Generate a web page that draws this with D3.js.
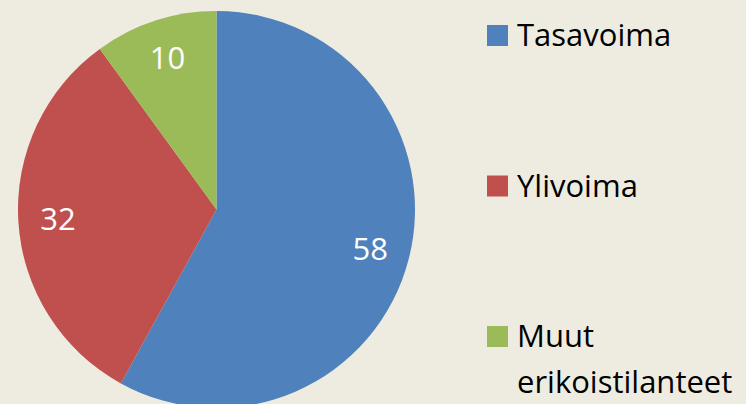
<!DOCTYPE html>
<html>
<head>
<meta charset="utf-8">
<script src="https://cdn.jsdelivr.net/npm/d3@7"></script>
<style>
	html, body { margin: 0; padding: 0; background: #EEECE1; }
	svg { display: block; font-family: "Open Sans", sans-serif; }
</style>
</head>
<body>
<div id="chart"></div>
<script>
// chart data
const categories = ['Tasavoima', 'Ylivoima', 'Muut erikoistilanteet'];
const values = [58, 32, 10];
const colors = ['#4F81BD', '#C0504D', '#9BBB59'];
// legend lines (last item wraps onto two lines)
const legendLines = [['Tasavoima'], ['Ylivoima'], ['Muut', 'erikoistilanteet']];

const W = 746, H = 404;
const CX = 216.5, CY = 209.5, R = 198.5;

const svg = d3.select('#chart')
	.append('svg')
	.attr('width', W)
	.attr('height', H);

const color = d3.scaleOrdinal()
	.domain(categories)
	.range(colors);

const pie = d3.pie()
	.sort(null)
	.value(d => d.value);

const arcs = pie(categories.map((c, i) => ({ name: c, value: values[i] })));

const arc = d3.arc().innerRadius(0).outerRadius(R);
const labelArc = d3.arc().innerRadius(R * 0.8).outerRadius(R * 0.8);

const g = svg.append('g')
	.attr('transform', 'translate(' + CX + ',' + CY + ')');

g.selectAll('path')
	.data(arcs)
	.enter()
	.append('path')
	.attr('d', arc)
	.attr('fill', d => color(d.data.name));

g.selectAll('text')
	.data(arcs)
	.enter()
	.append('text')
	.attr('transform', d => 'translate(' + labelArc.centroid(d) + ')')
	.attr('text-anchor', 'middle')
	.attr('dy', '0.35em')
	.attr('fill', '#fff')
	.attr('font-size', 31)
	.text(d => d.data.value);

// legend
const ly = d3.scalePoint()
	.domain(categories)
	.range([46, 347]);

const legend = svg.append('g')
	.selectAll('g')
	.data(categories)
	.enter()
	.append('g')
	.attr('transform', d => 'translate(487,' + ly(d) + ')');

legend.append('rect')
	.attr('x', 0)
	.attr('y', -21)
	.attr('width', 21)
	.attr('height', 21)
	.attr('fill', d => color(d));

legend.append('text')
	.attr('x', 30)
	.attr('font-size', 31)
	.attr('fill', '#000')
	.selectAll('tspan')
	.data((d, i) => legendLines[i])
	.enter()
	.append('tspan')
	.attr('x', 30)
	.attr('y', (d, i) => i * 46)
	.text(d => d);
</script>
</body>
</html>
